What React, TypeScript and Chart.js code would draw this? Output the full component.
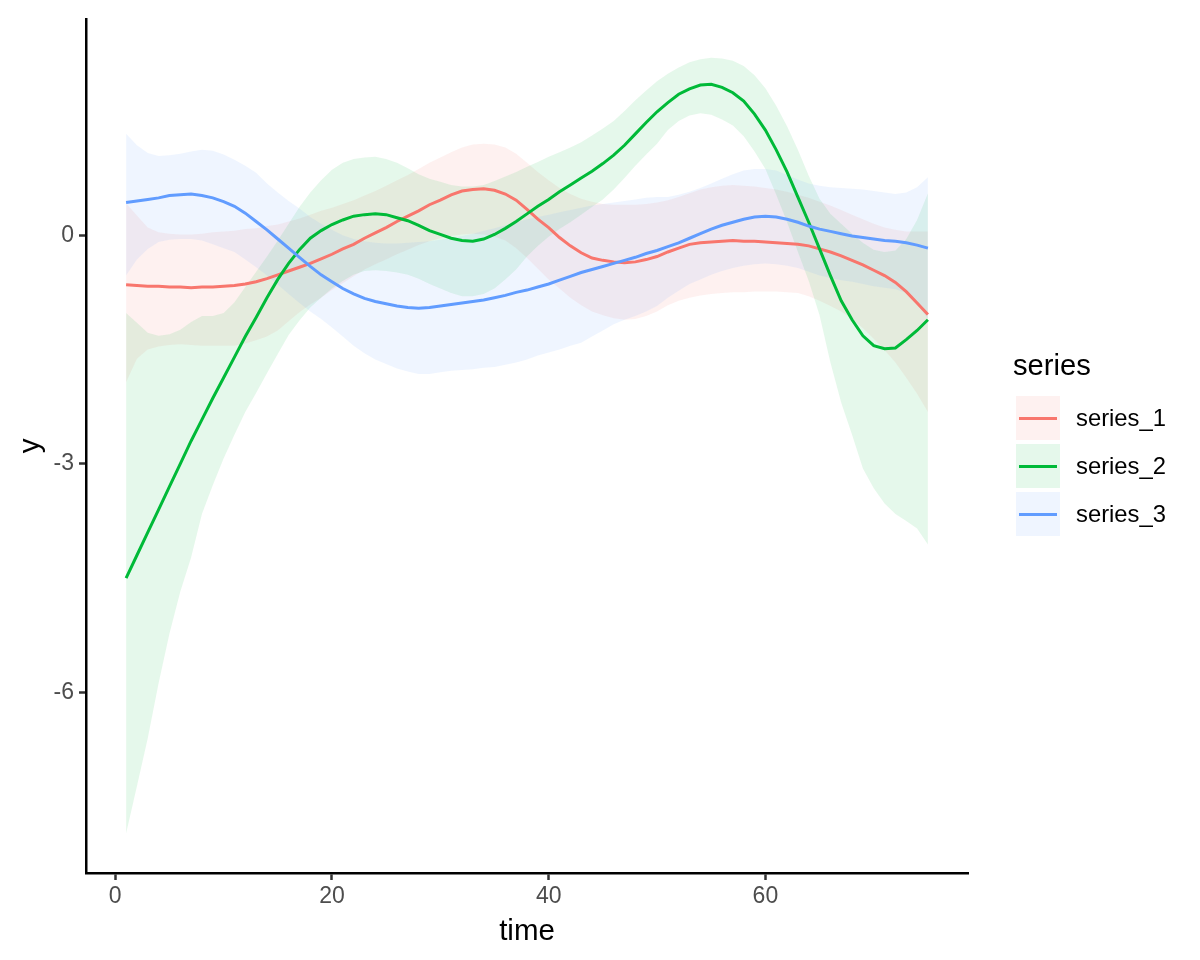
import React, { useEffect, useRef } from "react";
import { Chart, registerables } from "chart.js";

Chart.register(...registerables);

const FONT = "'Liberation Sans', Arial, Helvetica, sans-serif";

const time = [
  1, 2, 3, 4, 5, 6, 7, 8, 9, 10, 11, 12, 13, 14, 15, 16, 17, 18, 19, 20, 21, 22, 23, 24, 25,
  26, 27, 28, 29, 30, 31, 32, 33, 34, 35, 36, 37, 38, 39, 40, 41, 42, 43, 44, 45, 46, 47, 48, 49, 50,
  51, 52, 53, 54, 55, 56, 57, 58, 59, 60, 61, 62, 63, 64, 65, 66, 67, 68, 69, 70, 71, 72, 73, 74, 75,
];

const seriesNames = ["series_1", "series_2", "series_3"];
const seriesColors = ["#F8766D", "#00BA38", "#619CFF"];
const ribbonColors = ["rgba(248,118,109,0.1)", "rgba(0,186,56,0.1)", "rgba(97,156,255,0.1)"];

const series1 = [
  -0.65, -0.66, -0.67, -0.67, -0.68, -0.68, -0.69, -0.68, -0.68, -0.67,
  -0.66, -0.64, -0.61, -0.57, -0.52, -0.47, -0.42, -0.37, -0.31, -0.25,
  -0.18, -0.12, -0.04, 0.03, 0.1, 0.18, 0.25, 0.32, 0.4, 0.46,
  0.53, 0.58, 0.6, 0.61, 0.59, 0.54, 0.46, 0.34, 0.21, 0.1,
  -0.03, -0.14, -0.23, -0.3, -0.33, -0.35, -0.36, -0.35, -0.32, -0.28,
  -0.22, -0.17, -0.12, -0.1, -0.09, -0.08, -0.07, -0.08, -0.08, -0.09,
  -0.1, -0.11, -0.12, -0.14, -0.18, -0.22, -0.27, -0.33, -0.39, -0.46,
  -0.53, -0.62, -0.74, -0.89, -1.04,
];
const series1Upper = [
  0.42, 0.26, 0.1, 0.04, 0.02, 0.01, 0.01, 0.02, 0.04, 0.05,
  0.06, 0.08, 0.09, 0.12, 0.14, 0.18, 0.22, 0.27, 0.32, 0.36,
  0.41, 0.46, 0.52, 0.58, 0.65, 0.72, 0.79, 0.87, 0.95, 1.02,
  1.09, 1.15, 1.19, 1.2, 1.19, 1.15, 1.07, 0.95, 0.83, 0.72,
  0.62, 0.54, 0.48, 0.44, 0.41, 0.4, 0.4, 0.4, 0.41, 0.43,
  0.46, 0.5, 0.55, 0.6, 0.63, 0.65, 0.66, 0.65, 0.64, 0.62,
  0.6, 0.57, 0.53, 0.49, 0.44, 0.39, 0.33, 0.27, 0.21, 0.15,
  0.1, 0.07, 0.05, 0.05, 0.05,
];
const series1Lower = [
  -1.93, -1.62, -1.5, -1.46, -1.44, -1.43, -1.44, -1.45, -1.45, -1.45,
  -1.45, -1.42, -1.38, -1.33, -1.25, -1.13, -1.01, -0.91, -0.82, -0.72,
  -0.63, -0.54, -0.45, -0.38, -0.32, -0.25, -0.19, -0.13, -0.08, -0.04,
  -0.01, 0.01, 0.02, 0.01, -0.02, -0.07, -0.17, -0.3, -0.44, -0.58,
  -0.7, -0.82, -0.92, -1.0, -1.05, -1.09, -1.11, -1.1, -1.06, -1.0,
  -0.92, -0.86, -0.82, -0.79, -0.77, -0.76, -0.75, -0.75, -0.74, -0.74,
  -0.74, -0.75, -0.76, -0.8, -0.86, -0.93, -1.0, -1.1, -1.22, -1.36,
  -1.51, -1.67, -1.87, -2.08, -2.32,
];

const series2 = [
  -4.5, -4.2, -3.9, -3.6, -3.3, -3.0, -2.7, -2.42, -2.14, -1.87,
  -1.6, -1.33, -1.08, -0.82, -0.58, -0.37, -0.19, -0.04, 0.06, 0.14,
  0.2, 0.25, 0.27, 0.28, 0.27, 0.23, 0.19, 0.13, 0.06, 0.01,
  -0.04, -0.07, -0.08, -0.05, 0.01, 0.09, 0.18, 0.28, 0.38, 0.47,
  0.57, 0.66, 0.75, 0.84, 0.94, 1.05, 1.18, 1.33, 1.48, 1.62,
  1.74, 1.85, 1.92, 1.97, 1.98, 1.94, 1.87, 1.76, 1.59, 1.38,
  1.12, 0.83, 0.5, 0.17, -0.18, -0.53, -0.86, -1.11, -1.32, -1.45,
  -1.49, -1.48, -1.37, -1.25, -1.11,
];
const series2Upper = [
  -1.02, -1.15, -1.28, -1.32, -1.3, -1.24, -1.14, -1.06, -1.06, -1.02,
  -0.88, -0.68, -0.48, -0.28, -0.07, 0.15, 0.37, 0.56, 0.72, 0.86,
  0.95, 1.0, 1.02, 1.03, 1.0, 0.95, 0.88, 0.8, 0.74, 0.7,
  0.66, 0.64, 0.64, 0.66, 0.71, 0.77, 0.83, 0.9, 0.96, 1.03,
  1.09, 1.15, 1.22, 1.31, 1.4, 1.5, 1.63, 1.77, 1.9, 2.02,
  2.12, 2.2, 2.27, 2.31, 2.33, 2.32, 2.29, 2.22, 2.1, 1.93,
  1.7, 1.43, 1.12, 0.78, 0.48, 0.28, 0.15, 0.02, -0.1, -0.19,
  -0.22, -0.2, -0.05, 0.2, 0.55,
];
const series2Lower = [
  -7.85, -7.23, -6.6, -5.88, -5.23, -4.68, -4.23, -3.66, -3.28, -2.93,
  -2.62, -2.32, -2.07, -1.81, -1.56, -1.31, -1.12, -0.95, -0.82, -0.7,
  -0.6, -0.52, -0.47, -0.46, -0.47, -0.49, -0.52, -0.57, -0.64, -0.7,
  -0.76, -0.8, -0.8, -0.77, -0.7, -0.58, -0.45, -0.28, -0.14, -0.02,
  0.08, 0.17, 0.27, 0.37, 0.47, 0.6, 0.75, 0.91, 1.06, 1.2,
  1.38, 1.5, 1.57, 1.6, 1.58, 1.52, 1.44, 1.3, 1.1, 0.87,
  0.53, 0.17, -0.22, -0.6, -1.05, -1.67, -2.2, -2.62, -3.06, -3.32,
  -3.52, -3.66, -3.75, -3.85, -4.06,
];

const series3 = [
  0.43, 0.45, 0.47, 0.49, 0.52, 0.53, 0.54, 0.52, 0.49, 0.44,
  0.38, 0.29, 0.18, 0.07, -0.05, -0.17, -0.29, -0.41, -0.52, -0.61,
  -0.7, -0.77, -0.83, -0.87, -0.9, -0.93, -0.95, -0.96, -0.95, -0.93,
  -0.91, -0.89, -0.87, -0.85, -0.82, -0.79, -0.75, -0.72, -0.68, -0.64,
  -0.59, -0.54, -0.49, -0.45, -0.41, -0.37, -0.33, -0.29, -0.24, -0.2,
  -0.15, -0.1, -0.04, 0.02, 0.08, 0.13, 0.17, 0.21, 0.24, 0.25,
  0.24, 0.21, 0.17, 0.12, 0.08, 0.05, 0.02, -0.01, -0.03, -0.05,
  -0.07, -0.08, -0.1, -0.13, -0.17,
];
const series3Upper = [
  1.33, 1.18, 1.08, 1.04, 1.05, 1.07, 1.1, 1.12, 1.11, 1.06,
  0.99, 0.91, 0.82, 0.68, 0.56, 0.45, 0.35, 0.24, 0.15, 0.07,
  0.0, -0.05, -0.08, -0.1, -0.11, -0.11, -0.1, -0.09, -0.08, -0.06,
  -0.04, -0.01, 0.02, 0.06, 0.09, 0.13, 0.17, 0.21, 0.24, 0.27,
  0.3, 0.33, 0.36, 0.39, 0.41, 0.43, 0.45, 0.47, 0.49, 0.5,
  0.5, 0.53, 0.57, 0.62, 0.68, 0.74, 0.8, 0.85, 0.87, 0.87,
  0.85, 0.79, 0.73, 0.68, 0.65, 0.63, 0.62, 0.61, 0.6, 0.58,
  0.56, 0.54, 0.56, 0.63, 0.76,
];
const series3Lower = [
  -0.53, -0.32, -0.18, -0.09, -0.06, -0.05, -0.05, -0.07, -0.12, -0.17,
  -0.22, -0.32, -0.42, -0.53, -0.65, -0.77, -0.89, -1.0, -1.1, -1.21,
  -1.33, -1.45, -1.55, -1.63, -1.69, -1.75, -1.79, -1.82, -1.82, -1.8,
  -1.78, -1.77, -1.76, -1.74, -1.73, -1.7, -1.67, -1.63, -1.58, -1.54,
  -1.5, -1.45, -1.41, -1.33, -1.25, -1.17, -1.11, -1.06, -1.0, -0.93,
  -0.82, -0.73, -0.64, -0.58, -0.52, -0.47, -0.43, -0.4, -0.38, -0.37,
  -0.38, -0.4, -0.43, -0.48, -0.53, -0.56, -0.59, -0.61, -0.64, -0.67,
  -0.69, -0.71, -0.76, -0.9, -1.1,
];

const xTicks = [0, 20, 40, 60];
const yTicks = [-6, -3, 0];

const lines = [series1, series2, series3];
const uppers = [series1Upper, series2Upper, series3Upper];
const lowers = [series1Lower, series2Lower, series3Lower];

function pts(vals: number[]) {
  return vals.map((v, i) => ({ x: time[i], y: v }));
}

export default function App() {
  const ref = useRef<HTMLCanvasElement | null>(null);

  useEffect(() => {
    if (!ref.current) return;
    const datasets: any[] = [];
    for (let s = 0; s < 3; s++) {
      datasets.push({
        label: seriesNames[s] + " upper",
        data: pts(uppers[s]),
        borderColor: "rgba(0,0,0,0)",
        borderWidth: 0,
        backgroundColor: ribbonColors[s],
        fill: "+1",
        pointRadius: 0,
        order: 20 - s * 2,
      });
      datasets.push({
        label: seriesNames[s] + " lower",
        data: pts(lowers[s]),
        borderColor: "rgba(0,0,0,0)",
        borderWidth: 0,
        backgroundColor: "rgba(0,0,0,0)",
        fill: false,
        pointRadius: 0,
        order: 19 - s * 2,
      });
    }
    for (let s = 0; s < 3; s++) {
      datasets.push({
        label: seriesNames[s],
        data: pts(lines[s]),
        borderColor: seriesColors[s],
        borderWidth: 3,
        fill: false,
        pointRadius: 0,
        tension: 0,
        order: 5 - s,
      });
    }

    const tickFont = { family: FONT, size: 23 };
    const titleFont = { family: FONT, size: 29.5 };

    const chart = new Chart(ref.current, {
      type: "line",
      data: { datasets },
      options: {
        animation: false,
        responsive: false,
        maintainAspectRatio: false,
        devicePixelRatio: 1,
        layout: { padding: { top: 15, right: 232, bottom: 0, left: 0 } },
        plugins: {
          legend: { display: false },
          tooltip: { enabled: false },
        },
        elements: { point: { radius: 0 }, line: { tension: 0 } },
        scales: {
          x: {
            type: "linear",
            min: -2.7,
            max: 78.7,
            afterBuildTicks: (scale: any) => {
              scale.ticks = xTicks.map((v) => ({ value: v }));
            },
            afterFit: (scale: any) => {
              scale.height = 87;
            },
            ticks: {
              font: tickFont,
              color: "#4D4D4D",
              padding: 3,
              maxRotation: 0,
              autoSkip: false,
              callback: (v: any) => String(v),
            },
            grid: {
              display: true,
              drawOnChartArea: false,
              drawTicks: true,
              tickLength: 7,
              tickColor: "#333333",
              tickWidth: 2.5,
            },
            border: { display: true, color: "#000000", width: 2.5 },
            title: {
              display: true,
              text: "time",
              font: titleFont,
              color: "#000000",
              padding: { top: 0, bottom: 10 },
            },
          },
          y: {
            type: "linear",
            min: -8.37,
            max: 2.84,
            afterBuildTicks: (scale: any) => {
              scale.ticks = yTicks.map((v) => ({ value: v }));
            },
            afterFit: (scale: any) => {
              scale.width = 86;
            },
            ticks: {
              font: tickFont,
              color: "#4D4D4D",
              padding: 5,
              autoSkip: false,
              callback: (v: any) => String(v),
            },
            grid: {
              display: true,
              drawOnChartArea: false,
              drawTicks: true,
              tickLength: 7,
              tickColor: "#333333",
              tickWidth: 2.5,
            },
            border: { display: true, color: "#000000", width: 2.5 },
            title: {
              display: true,
              text: "y",
              font: titleFont,
              color: "#000000",
              padding: { top: 13, bottom: 0 },
            },
          },
        },
      },
    } as any);

    return () => {
      chart.destroy();
    };
  }, []);

  return (
    <div style={{ position: "absolute", left: 0, top: 0, width: 1200, height: 960, background: "#ffffff" }}>
      <canvas ref={ref} width={1200} height={960} style={{ width: 1200, height: 960, display: "block" }} />
      <div
        style={{
          position: "absolute",
          left: 1013,
          top: 351,
          fontFamily: FONT,
          fontSize: 29.2,
          lineHeight: "29.2px",
          color: "#000",
          whiteSpace: "nowrap",
        }}
      >
        series
      </div>
      {seriesNames.map((name, i) => (
        <React.Fragment key={name}>
          <div
            style={{
              position: "absolute",
              left: 1016,
              top: 396 + i * 48,
              width: 44,
              height: 44,
              background: ribbonColors[i],
            }}
          >
            <div
              style={{
                position: "absolute",
                left: 3,
                top: 20.5,
                width: 38,
                height: 3,
                background: seriesColors[i],
              }}
            />
          </div>
          <div
            style={{
              position: "absolute",
              left: 1076,
              top: 406 + i * 48,
              fontFamily: FONT,
              fontSize: 23.8,
              lineHeight: "23.8px",
              color: "#000",
              whiteSpace: "nowrap",
            }}
          >
            {name}
          </div>
        </React.Fragment>
      ))}
    </div>
  );
}
